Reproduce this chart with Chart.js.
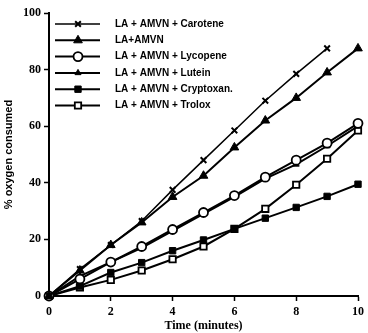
<!DOCTYPE html>
<html>
<head>
<meta charset="utf-8">
<script src="https://cdn.jsdelivr.net/npm/chart.js@4/dist/chart.umd.min.js"></script>
<style>
  html, body { margin: 0; padding: 0; background: #fff; }
  #wrap { width: 368px; height: 333px; }
</style>
</head>
<body>
<div id="wrap"><canvas id="chart" width="368" height="333"></canvas></div>
<script>
// Time axis (minutes)
const times = [0, 1, 2, 3, 4, 5, 6, 7, 8, 9, 10]
const seriesNames = [
  'LA + AMVN + Carotene',
  'LA+AMVN',
  'LA + AMVN + Lycopene',
  'LA + AMVN + Lutein',
  'LA + AMVN + Cryptoxan.',
  'LA + AMVN + Trolox',
]
// % oxygen consumed
const carotene = [0, 9.5, 18, 26.5, 37.5, 48, 58.5, 69, 78.5, 87.5]
const laAmvn = [0, 9, 18, 26, 35, 42.5, 52.5, 62, 70, 79, 87.5]
const lycopene = [0, 6, 12, 17.5, 23.5, 29.5, 35.5, 42, 48, 54, 61]
const lutein = [0, 7, 12, 17, 23, 29, 35, 41.5, 46.5, 53, 60]
const cryptoxan = [0, 3.5, 8.3, 11.8, 16, 19.8, 23.7, 27.5, 31.3, 35.2, 39.5]
const trolox = [0, 3, 5.7, 9, 13, 17.5, 23.7, 30.8, 39.3, 48.5, 58.5]
const xTicks = [0, 2, 4, 6, 8, 10]
const yTicks = [0, 20, 40, 60, 80, 100]

const toPts = (arr) => arr.map((v, i) => ({ x: times[i], y: v }))

const styles = [
  { pointStyle: 'crossRot', radius: 4, fill: '#000', width: 1.5, pbw: 2 },
  { pointStyle: 'triangle', radius: 5, fill: '#000', width: 2, pbw: 1 },
  { pointStyle: 'circle', radius: 4.5, fill: '#fff', width: 2, pbw: 1.8 },
  { pointStyle: 'triangle', radius: 3.5, fill: '#000', width: 2, pbw: 1 },
  { pointStyle: 'rect', radius: 4.5, fill: '#000', width: 2, pbw: 1 },
  { pointStyle: 'rect', radius: 4.5, fill: '#fff', width: 2, pbw: 1.8 },
]
const allData = [carotene, laAmvn, lycopene, lutein, cryptoxan, trolox]

const datasets = allData.map((d, i) => ({
  label: seriesNames[i],
  data: toPts(d),
  borderColor: '#000',
  borderWidth: styles[i].width,
  pointStyle: styles[i].pointStyle,
  pointRadius: styles[i].radius,
  pointBackgroundColor: styles[i].fill,
  pointBorderColor: '#000',
  pointBorderWidth: styles[i].pbw,
  tension: 0,
  clip: false,
}))

// legend drawn inside the plot, line + marker like the original
const insideLegend = {
  id: 'insideLegend',
  afterDraw(chart) {
    const ctx = chart.ctx
    ctx.save()
    ctx.font = 'bold 10px "Liberation Sans", Arial, sans-serif'
    ctx.textBaseline = 'middle'
    ctx.fillStyle = '#000'
    seriesNames.forEach((name, i) => {
      const y = 24 + i * 16.3
      const s = styles[i]
      ctx.strokeStyle = '#000'
      ctx.lineWidth = s.width
      ctx.beginPath()
      ctx.moveTo(55, y)
      ctx.lineTo(100, y)
      ctx.stroke()
      ctx.fillStyle = s.fill
      ctx.lineWidth = s.pbw
      Chart.helpers.drawPoint(ctx, { pointStyle: s.pointStyle, radius: s.radius, rotation: 0, borderWidth: s.pbw }, 78, y)
      ctx.fillStyle = '#000'
      ctx.fillText(name, 115, y)
    })
    ctx.restore()
  },
}

const tickFont = { family: '"Liberation Serif", serif', size: 12, weight: 'bold' }

new Chart(document.getElementById('chart'), {
  type: 'line',
  data: { datasets },
  options: {
    responsive: false,
    animation: false,
    layout: { padding: { left: 0, right: 6, top: 13, bottom: 0 } },
    plugins: {
      legend: { display: false },
      tooltip: { enabled: false },
    },
    scales: {
      x: {
        type: 'linear',
        min: 0,
        max: 10,
        afterFit: (s) => { s.height = 37 },
        afterBuildTicks: (s) => { s.ticks = xTicks.map((v) => ({ value: v })) },
        ticks: { color: '#000', font: tickFont, padding: 4, maxRotation: 0 },
        grid: { drawOnChartArea: false, color: '#000', tickLength: 5, tickWidth: 1.5 },
        border: { color: '#000', width: 2 },
        title: {
          display: true,
          text: 'Time (minutes)',
          color: '#000',
          font: { family: '"Liberation Serif", serif', size: 12, weight: 'bold' },
          padding: { top: 0, bottom: 0 },
        },
      },
      y: {
        type: 'linear',
        min: 0,
        max: 100,
        afterFit: (s) => { s.width = 49 },
        afterBuildTicks: (s) => { s.ticks = yTicks.map((v) => ({ value: v })) },
        ticks: { color: '#000', font: tickFont, padding: 3 },
        grid: { drawOnChartArea: false, color: '#000', tickLength: 5, tickWidth: 1.5 },
        border: { color: '#000', width: 2 },
        title: {
          display: true,
          text: '% oxygen consumed',
          color: '#000',
          font: { family: '"Liberation Sans", Arial, sans-serif', size: 11, weight: 'bold' },
          padding: { top: 2, bottom: 2 },
        },
      },
    },
  },
  plugins: [insideLegend],
})
</script>
</body>
</html>
